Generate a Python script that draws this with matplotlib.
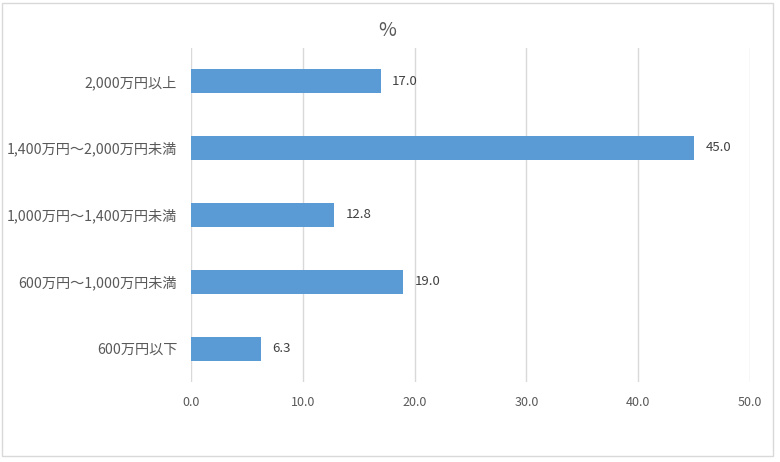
import matplotlib
matplotlib.use('Agg')
import matplotlib.pyplot as plt
from matplotlib.patches import Rectangle

# data (top to bottom as shown)
categories = ['2,000万円以上', '1,400万円～2,000万円未満', '1,000万円～1,400万円未満',
              '600万円～1,000万円未満', '600万円以下']
values = [17.0, 45.0, 12.8, 19.0, 6.3]
xticks = [0, 10, 20, 30, 40, 50]

plt.rcParams['font.family'] = ['Noto Sans CJK JP', 'DejaVu Sans']
text_color = '#595959'

fig = plt.figure(figsize=(7.8, 4.62), dpi=100)
ax = fig.add_axes([0.2449, 0.173, 0.7166, 0.724])

ypos = list(range(len(categories)))[::-1]
ax.barh(ypos, values, height=0.36, color='#5B9BD5', zorder=3)

# value labels
for y, v in zip(ypos, values):
    ax.text(v + 1.0, y, f'{v:.1f}', va='center', ha='left', fontsize=9.5, color='#404040')

ax.set_xlim(0, 50)
ax.set_ylim(-0.5, len(categories) - 0.5)
ax.set_xticks(xticks)
ax.set_xticklabels([f'{t:.1f}' for t in xticks], fontsize=9, color=text_color)
ax.set_yticks(ypos)
ax.set_yticklabels(categories, fontsize=10.2, color=text_color)
ax.tick_params(axis='both', length=0, pad=10)
ax.tick_params(axis='y', pad=10)
ax.xaxis.grid(True, color='#D9D9D9', linewidth=1, zorder=0)
for s in ax.spines.values():
    s.set_visible(False)

fig.text(0.496, 0.935, '%', ha='center', va='center', fontsize=14, color=text_color)

# light border around the chart area
fig.patches.append(Rectangle((0.003, 0.012), 0.988, 0.982, transform=fig.transFigure,
                             fill=False, edgecolor='#D9D9D9', linewidth=1))

fig.savefig('out.png', dpi=100)
